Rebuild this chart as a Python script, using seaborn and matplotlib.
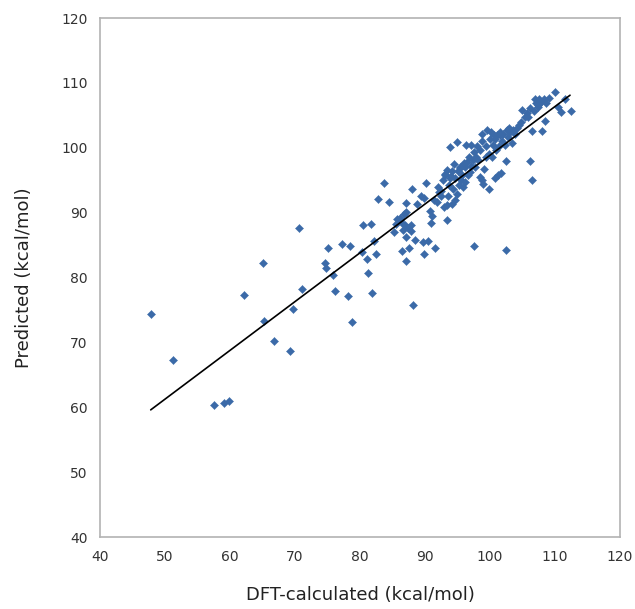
import matplotlib
matplotlib.use('Agg')
import matplotlib.pyplot as plt
import seaborn as sns
import pandas as pd

# DFT-calculated vs predicted BDE (kcal/mol)
dft = [47.8, 51.3, 57.5, 59.1, 59.9, 62.2, 65.1, 65.3, 66.7, 69.2, 69.7, 70.6, 71.1,
       74.6, 74.8, 75.1, 75.8, 76.2, 77.3, 78.2, 78.4, 78.8, 80.3, 80.4, 81.1, 81.2,
       81.7, 81.9, 82.2, 82.4, 82.8, 83.7, 84.4, 85.2, 85.5, 85.7, 86.1, 86.4, 86.4,
       86.7, 86.9, 87.0, 87.0, 87.0, 87.1, 87.4, 87.5, 87.8, 87.9, 88.0, 88.1, 88.4,
       88.8, 89.3, 89.7, 89.8, 89.9, 90.2, 90.5, 90.7, 90.9, 91.1, 91.6, 91.8, 92.0,
       92.2, 92.5, 92.7, 92.9, 93.1, 93.3, 93.3, 93.4, 93.5, 93.7, 93.8, 93.9, 94.1,
       94.2, 94.3, 94.5, 94.6, 94.9, 94.9, 95.0, 95.2, 95.4, 95.5, 95.7, 95.9, 96.1,
       96.2, 96.3, 96.4, 96.6, 96.7, 97.0, 97.1, 97.3, 97.5, 97.7, 97.9, 98.0, 98.2,
       98.5, 98.7, 98.8, 98.9, 99.1, 99.4, 99.6, 99.8, 99.9, 100.0, 100.1, 100.3,
       100.4, 100.7, 100.8, 100.9, 101.1, 101.2, 101.4, 101.5, 101.7, 101.9, 102.0,
       102.3, 102.4, 102.5, 102.6, 102.8, 103.1, 103.3, 103.5, 103.9, 104.1, 104.5,
       104.9, 105.3, 105.7, 106.1, 106.2, 106.4, 106.5, 106.8, 106.9, 107.1, 107.4,
       107.6, 107.8, 108.0, 108.3, 108.4, 108.6, 109.0, 110.0, 110.5, 110.9, 111.5,
       112.4, 98.8, 94.6, 93.0, 95.8, 96.9, 97.6, 99.3, 92.4, 94.0, 95.3, 96.0,
       101.6, 102.9, 100.6, 98.4, 104.8, 105.9, 107.3, 86.2, 86.6, 91.4]
pred = [74.3, 67.3, 60.4, 60.6, 61.0, 77.3, 82.2, 73.3, 70.2, 68.7, 75.2, 87.6, 78.2,
        82.3, 81.4, 84.5, 80.4, 77.9, 85.1, 77.2, 84.9, 73.2, 83.9, 88.1, 82.8, 80.7,
        88.3, 77.6, 85.6, 83.7, 92.1, 94.6, 91.7, 87.0, 88.3, 89.0, 89.2, 88.4, 84.1,
        89.8, 88.1, 82.6, 86.2, 91.5, 90.1, 87.6, 84.5, 87.2, 88.1, 93.6, 75.7, 85.8,
        91.4, 92.5, 85.4, 83.6, 92.2, 94.5, 85.7, 90.3, 88.4, 89.5, 84.5, 91.6, 94.0,
        93.2, 92.6, 95.0, 90.9, 95.8, 96.5, 88.9, 91.2, 92.5, 94.2, 95.3, 100.1, 96.4,
        91.4, 93.6, 97.5, 95.3, 100.9, 92.8, 96.4, 94.2, 97.1, 95.0, 95.8, 94.0, 97.0,
        94.8, 100.5, 97.8, 95.8, 98.6, 97.2, 100.5, 98.1, 84.9, 97.0, 98.6, 100.3, 98.1,
        95.5, 95.0, 102.2, 94.4, 96.7, 98.6, 102.7, 93.6, 99.0, 101.4, 102.5, 98.6,
        100.5, 101.4, 95.3, 99.6, 101.9, 95.8, 100.3, 102.5, 96.1, 101.1, 102.2,
        100.5, 84.3, 97.9, 102.7, 101.6, 102.5, 100.8, 102.7, 102.2, 103.0, 103.5,
        105.8, 104.7, 105.4, 106.1, 97.9, 102.6, 95.0, 105.6, 107.5, 106.9, 106.3,
        107.5, 107.0, 102.6, 107.5, 104.2, 106.9, 107.7, 108.6, 106.3, 105.5, 107.5,
        105.6, 101.1, 92.0, 96.0, 97.4, 96.3, 99.4, 100.2, 93.3, 95.6, 96.9, 97.6,
        102.0, 103.1, 101.9, 99.7, 104.0, 104.8, 106.6, 88.9, 87.4, 92.0]

# fitted line endpoints
line_x = [47.8, 112.3]
line_y = [59.6, 108.1]

df = pd.DataFrame({'dft': dft, 'pred': pred})
fit = pd.DataFrame({'x': line_x, 'y': line_y})

sns.set_style('white')
plt.rcParams['font.family'] = ['DejaVu Sans']

fig = plt.figure(figsize=(6.35, 6.09), dpi=100)
ax = fig.add_axes([0.1575, 0.1182, 0.819, 0.8522])

sns.scatterplot(data=df, x='dft', y='pred', marker='D', s=17, color='#3b6aa8',
                edgecolor='#3b6aa8', linewidth=0.3, ax=ax, zorder=2)
sns.lineplot(data=fit, x='x', y='y', color='black', linewidth=1.2, ax=ax, zorder=3)

ax.set_xlim(40, 120)
ax.set_ylim(40, 120)
ax.set_xticks(range(40, 121, 10))
ax.set_yticks(range(40, 121, 10))
for s in ax.spines.values():
    s.set_color('#b3b3b3')
    s.set_linewidth(1.2)
ax.tick_params(axis='both', direction='out', length=5, width=1, color='#b3b3b3',
               labelsize=10, labelcolor='#333333', pad=4)
ax.set_xlabel('DFT-calculated (kcal/mol)', fontsize=13, color='#222222', labelpad=16)
ax.set_ylabel('Predicted (kcal/mol)', fontsize=13, color='#222222', labelpad=20)

fig.savefig('out.png', dpi=100, facecolor='white')
